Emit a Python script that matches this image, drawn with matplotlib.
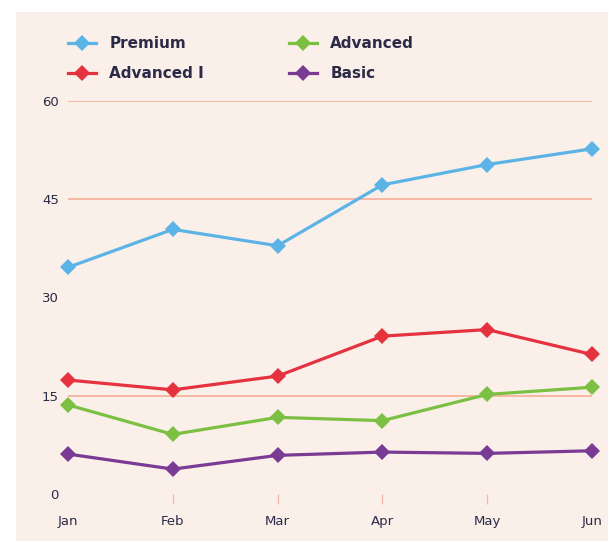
import matplotlib
matplotlib.use("Agg")
import matplotlib.pyplot as plt
from matplotlib.patches import Rectangle

# data
months = ["Jan", "Feb", "Mar", "Apr", "May", "Jun"]
premium = [34.6, 40.4, 37.9, 47.2, 50.3, 52.7]
advanced_1 = [17.4, 15.9, 18.0, 24.1, 25.1, 21.3]
advanced = [13.6, 9.1, 11.7, 11.2, 15.2, 16.3]
basic = [6.1, 3.8, 5.9, 6.4, 6.2, 6.6]
y_ticks = [0, 15, 30, 45, 60]
grid_vals = [15, 45, 60]

plt.rcParams["font.family"] = ["DejaVu Sans"]

W, H = 614, 542
fig = plt.figure(figsize=(W / 100, H / 100), dpi=100)
fig.patch.set_facecolor("white")

bg = "#fbefe9"
txt = "#2b2b47"
fig.patches.append(Rectangle((16 / W, 1 / H), 592 / W, 529 / H,
                             transform=fig.transFigure, facecolor=bg,
                             edgecolor="none", zorder=-5))

ax = fig.add_axes([68 / W, 1 - 494 / H, 524 / W, 393 / H])
ax.set_facecolor("none")
for s in ax.spines.values():
    s.set_visible(False)

x = list(range(len(months)))
for v in grid_vals:
    ax.axhline(v, color="#f6b7a2", lw=1.4, zorder=1)

series = [
    ("Premium", premium, "#5cb4e6"),
    ("Advanced I", advanced_1, "#e5323f"),
    ("Advanced", advanced, "#7cc043"),
    ("Basic", basic, "#7a3b94"),
]
handles = {}
for name, vals, col in series:
    h, = ax.plot(x, vals, color=col, lw=2.3, marker="D", ms=8.5,
                 markeredgewidth=0, clip_on=False, zorder=3, label=name)
    handles[name] = h

ax.set_xlim(0, 5)
ax.set_ylim(0, 60)
ax.set_yticks(y_ticks)
ax.set_yticklabels([str(v) for v in y_ticks])
ax.set_xticks(x)
ax.set_xticklabels(months)
ax.tick_params(axis="y", length=0, pad=6.5, labelsize=9.5, labelcolor=txt)
ax.tick_params(axis="x", length=7, width=0.9, color="#f6b7a2", pad=8,
               labelsize=9.5, labelcolor=txt)
xt = ax.xaxis.get_major_ticks()
xt[0].tick1line.set_visible(False)
xt[-1].tick1line.set_visible(False)

leg_kw = dict(loc="upper left", frameon=False, borderpad=0,
              borderaxespad=0, handlelength=1.85, handletextpad=0.85,
              labelspacing=1.0, bbox_transform=fig.transFigure,
              labelcolor=txt, prop={"weight": "bold", "size": 11})
leg1 = ax.legend([handles["Premium"], handles["Advanced I"]],
                 ["Premium", "Advanced I"],
                 bbox_to_anchor=(68 / W, 1 - 36 / H), **leg_kw)
ax.add_artist(leg1)
ax.legend([handles["Advanced"], handles["Basic"]], ["Advanced", "Basic"],
          bbox_to_anchor=(289 / W, 1 - 36 / H), **leg_kw)

fig.savefig("out.png", dpi=100, facecolor=fig.get_facecolor())
